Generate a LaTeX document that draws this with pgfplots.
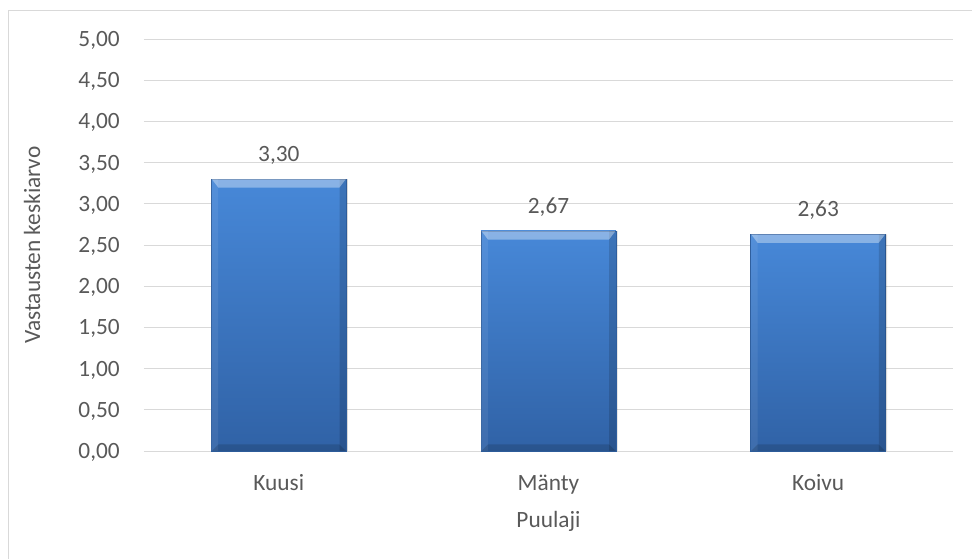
\documentclass[border=0pt]{standalone}
\usepackage{pgfplots}
\pgfplotsset{compat=1.18}
\usepackage{pgfplotstable}
\usepackage{fontspec}
\setmainfont{Carlito}

\definecolor{txt}{HTML}{595959}
\definecolor{gridc}{HTML}{D9D9D9}
\definecolor{frame}{HTML}{D9D9D9}
\definecolor{barTop}{HTML}{4788D8}
\definecolor{barBot}{HTML}{3062A6}
\definecolor{barEdge}{HTML}{2E5E9E}

\pgfplotstableread{
x  y
0  3.30
1  2.67
2  2.63
}\puulajit

\newcommand\lblfont{\fontsize{17.5}{20}\selectfont}

% bevel facets, placed at the top centre / bottom centre of each bar
% (bar width = 0.5 axis units = 101.125pt)
\pgfdeclareplotmark{bevtop}{%
  \pgfpathmoveto{\pgfqpoint{-50.3pt}{0pt}}%
  \pgfpathlineto{\pgfqpoint{50.3pt}{0pt}}%
  \pgfpathlineto{\pgfqpoint{45.3pt}{-6.5pt}}%
  \pgfpathlineto{\pgfqpoint{-45.3pt}{-6.5pt}}%
  \pgfpathclose\pgfusepath{fill}}
\pgfdeclareplotmark{bevbot}{%
  \pgfpathmoveto{\pgfqpoint{-50.3pt}{0pt}}%
  \pgfpathlineto{\pgfqpoint{50.3pt}{0pt}}%
  \pgfpathlineto{\pgfqpoint{45.3pt}{5pt}}%
  \pgfpathlineto{\pgfqpoint{-45.3pt}{5pt}}%
  \pgfpathclose\pgfusepath{fill}}

\begin{document}
\begin{tikzpicture}
\useasboundingbox (0,0) rectangle (729pt,418.5pt);
% chart frame
\draw[frame, line width=0.75pt] (6pt,-2pt) -- (6pt,410.8pt) -- (731pt,410.8pt);

\begin{axis}[
  at={(108pt,80.25pt)}, anchor=south west,
  scale only axis, width=606.75pt, height=309pt,
  xmin=-0.5, xmax=2.5, ymin=0, ymax=5,
  clip=false,
  axis line style={draw=none},
  major tick length=0pt,
  xtick={0,1,2},
  xticklabels={Kuusi,Mänty,Koivu},
  ytick={0,0.5,1,1.5,2,2.5,3,3.5,4,4.5,5},
  ymajorgrids,
  grid style={gridc, line width=0.75pt},
  font=\lblfont,
  /pgf/number format/.cd, use comma, fixed, fixed zerofill, precision=2,
    assume math mode=true,
  /pgfplots/.cd,
  yticklabel style={anchor=base east, inner sep=0pt, xshift=-18pt, yshift=-5.6pt, text=txt},
  xticklabel style={anchor=base, inner sep=0pt, yshift=-29.6pt, text=txt},
  xlabel={Puulaji},
  xlabel style={at={(axis description cs:0.5,0)}, anchor=base, inner sep=0pt, yshift=-57pt, text=txt},
  ylabel={Vastausten keskiarvo},
  ylabel style={at={(axis description cs:-0.1384,0.5)}, anchor=center, inner sep=0pt, text=txt},
  bar width=0.5, bar shift=0pt,
  nodes near coords style={anchor=base, inner sep=0pt, yshift=13.2pt, text=txt, font=\lblfont},
]
% soft shadow under the bars
\addplot[ybar, draw=none, fill=black, fill opacity=0.15, bar shift=1.2pt]
  table[x=x, y=y] {\puulajit};
% one shaded bar per species
\addplot[ybar, draw=barEdge, line width=0.6pt, top color=barTop, bottom color=barBot,
  skip coords between index={1}{3}] table[x=x, y=y] {\puulajit};
\addplot[ybar, draw=barEdge, line width=0.6pt, top color=barTop, bottom color=barBot,
  skip coords between index={0}{1}, skip coords between index={2}{3}] table[x=x, y=y] {\puulajit};
\addplot[ybar, draw=barEdge, line width=0.6pt, top color=barTop, bottom color=barBot,
  skip coords between index={0}{2}] table[x=x, y=y] {\puulajit};
% side facets
\addplot[ybar, draw=none, fill=white, fill opacity=0.07, bar width=5pt, bar shift=-48pt]
  table[x=x, y=y] {\puulajit};
\addplot[ybar, draw=none, fill=black, fill opacity=0.14, bar width=5pt, bar shift=48pt]
  table[x=x, y=y] {\puulajit};
% top and bottom facets
\addplot[only marks, mark=bevtop, mark options={draw=none, fill=white, fill opacity=0.36}]
  table[x=x, y=y] {\puulajit};
\addplot[only marks, mark=bevbot, mark options={draw=none, fill=black, fill opacity=0.14}]
  table[x=x, y expr=0] {\puulajit};
% value labels
\addplot[ybar, draw=none, fill=none, nodes near coords]
  table[x=x, y=y] {\puulajit};
\end{axis}
\end{tikzpicture}
\end{document}
